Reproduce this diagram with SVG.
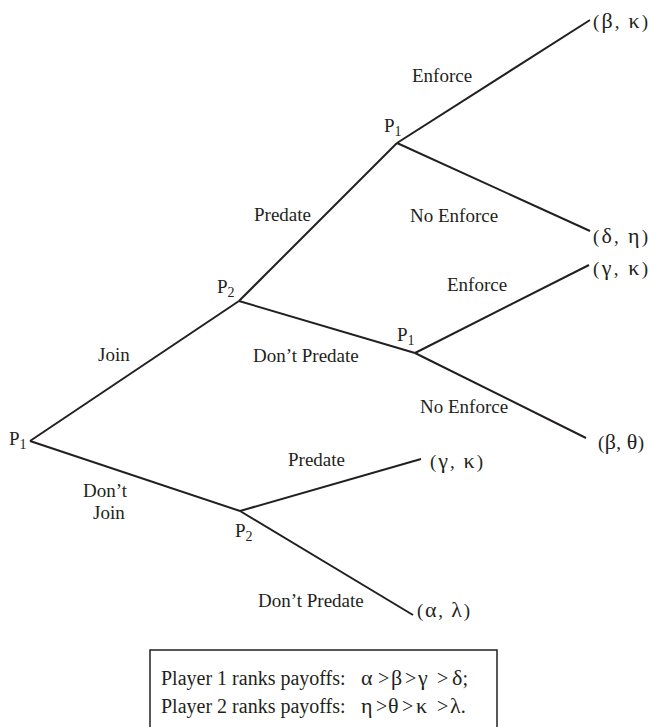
<svg xmlns="http://www.w3.org/2000/svg" width="649" height="727" viewBox="0 0 649 727">
<style>
text{font-family:"Liberation Serif","Times New Roman",serif;font-size:19px;fill:#231f20}
.sub{font-size:14px}
.leg{font-size:20px}
.g{font-size:22px}
.edge{stroke:#231f20;stroke-width:2;fill:none}
</style>
<rect width="649" height="727" fill="#fff"/>
<g id="connectors">
<line class="edge" x1="30" y1="441" x2="239" y2="301"/>
<line class="edge" x1="30" y1="441" x2="240" y2="511"/>
<line class="edge" x1="239" y1="301" x2="397" y2="143"/>
<line class="edge" x1="239" y1="301" x2="415" y2="353"/>
<line class="edge" x1="397" y1="143" x2="590" y2="20"/>
<line class="edge" x1="397" y1="143" x2="590" y2="231"/>
<line class="edge" x1="415" y1="353" x2="589" y2="265"/>
<line class="edge" x1="415" y1="353" x2="586" y2="438"/>
<line class="edge" x1="240" y1="511" x2="421" y2="459"/>
<line class="edge" x1="240" y1="511" x2="413" y2="615"/>
</g>
<g id="edge-labels">
<text x="98" y="361">Join</text>
<text x="83" y="497">Don’t</text>
<text x="93" y="519">Join</text>
<text x="254" y="221">Predate</text>
<text x="253" y="362">Don’t Predate</text>
<text x="412" y="82">Enforce</text>
<text x="410" y="222">No Enforce</text>
<text x="447" y="291">Enforce</text>
<text x="420" y="413">No Enforce</text>
<text x="288" y="466">Predate</text>
<text x="258" y="607">Don’t Predate</text>
</g>
<g id="node-root"><text x="9" y="445">P<tspan class="sub" dy="4">1</tspan></text></g>
<g id="node-p2-join"><text x="217" y="293">P<tspan class="sub" dy="4">2</tspan></text></g>
<g id="node-p1-predate"><text x="384" y="132">P<tspan class="sub" dy="4">1</tspan></text></g>
<g id="node-p1-nopredate"><text x="397" y="341">P<tspan class="sub" dy="4">1</tspan></text></g>
<g id="node-p2-nojoin"><text x="235" y="537">P<tspan class="sub" dy="4">2</tspan></text></g>
<g id="payoff-1"><text x="593" y="28" textLength="55" lengthAdjust="spacing">(<tspan class="g">β</tspan>, <tspan class="g">κ</tspan>)</text></g>
<g id="payoff-2"><text x="593" y="243" textLength="55" lengthAdjust="spacing">(<tspan class="g">δ</tspan>, <tspan class="g">η</tspan>)</text></g>
<g id="payoff-3"><text x="593" y="275" textLength="55" lengthAdjust="spacing">(<tspan class="g">γ</tspan>, <tspan class="g">κ</tspan>)</text></g>
<g id="payoff-4"><text x="598" y="449" textLength="46" lengthAdjust="spacing">(<tspan class="g">β</tspan>, <tspan class="g">θ</tspan>)</text></g>
<g id="payoff-5"><text x="430" y="468" textLength="53" lengthAdjust="spacing">(<tspan class="g">γ</tspan>, <tspan class="g">κ</tspan>)</text></g>
<g id="payoff-6"><text x="417" y="617" textLength="53" lengthAdjust="spacing">(<tspan class="g">α</tspan>, <tspan class="g">λ</tspan>)</text></g>
<g id="legend">
<rect x="150" y="650" width="347" height="80" fill="none" stroke="#231f20" stroke-width="1.5"/>
<text class="leg" y="685"><tspan x="161">Player 1 ranks payoffs:</tspan><tspan class="g" x="361">α</tspan><tspan x="378">&gt;</tspan><tspan class="g" x="391">β</tspan><tspan x="405">&gt;</tspan><tspan class="g" x="418">γ</tspan><tspan x="437">&gt;</tspan><tspan class="g" x="452">δ</tspan><tspan>;</tspan></text>
<text class="leg" y="713"><tspan x="161">Player 2 ranks payoffs:</tspan><tspan class="g" x="361">η</tspan><tspan x="376">&gt;</tspan><tspan class="g" x="388">θ</tspan><tspan x="402">&gt;</tspan><tspan class="g" x="416">κ</tspan><tspan x="437">&gt;</tspan><tspan class="g" x="450">λ</tspan><tspan>.</tspan></text>
</g>
</svg>
